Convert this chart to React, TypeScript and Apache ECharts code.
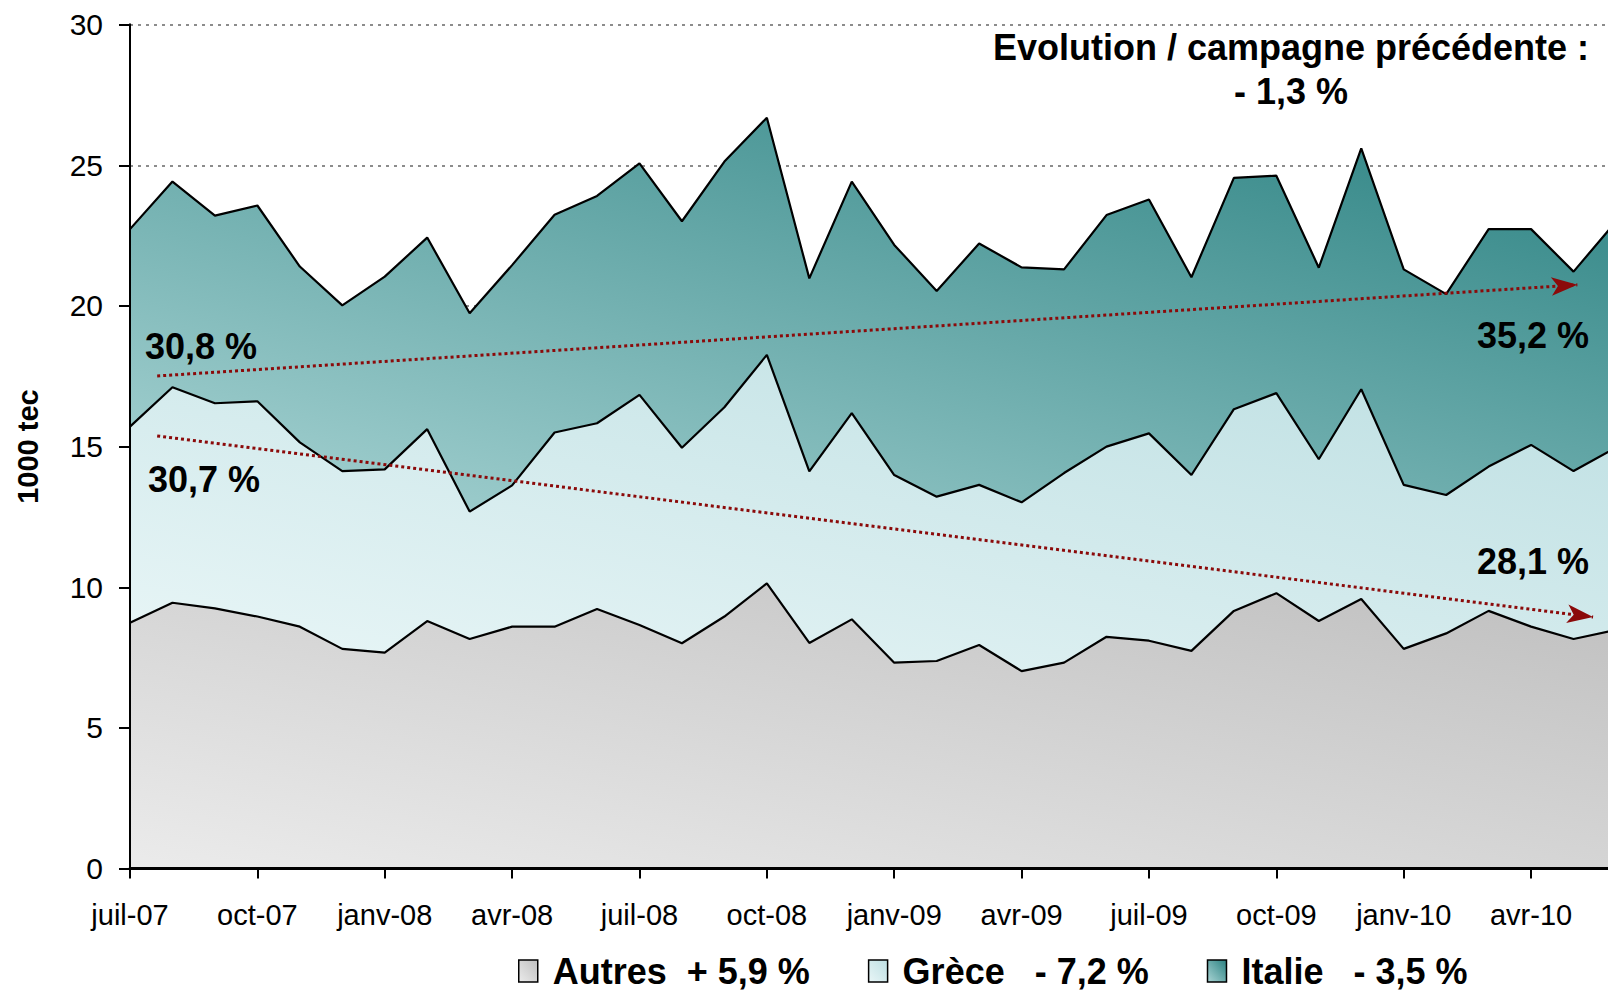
import React, { useEffect, useRef } from "react";
import * as echarts from "echarts";

const months = [
  "juil-07", "août-07", "sept-07", "oct-07", "nov-07", "déc-07",
  "janv-08", "févr-08", "mars-08", "avr-08", "mai-08", "juin-08",
  "juil-08", "août-08", "sept-08", "oct-08", "nov-08", "déc-08",
  "janv-09", "févr-09", "mars-09", "avr-09", "mai-09", "juin-09",
  "juil-09", "août-09", "sept-09", "oct-09", "nov-09", "déc-09",
  "janv-10", "févr-10", "mars-10", "avr-10", "mai-10", "juin-10",
];

const autres = [
  8.74, 9.45, 9.25, 8.96, 8.6, 7.81, 7.68, 8.8, 8.16, 8.6, 8.6, 9.23,
  8.66, 8.01, 8.96, 10.14, 8.02, 8.86, 7.32, 7.38, 7.95, 7.02, 7.32, 8.24,
  8.1, 7.74, 9.16, 9.79, 8.8, 9.58, 7.81, 8.36, 9.16, 8.6, 8.16, 8.48,
];

const grece = [
  6.97, 7.66, 7.29, 7.65, 6.55, 6.32, 6.51, 6.82, 4.53, 5.02, 6.9, 6.6,
  8.18, 6.95, 7.44, 8.12, 6.1, 7.33, 6.67, 5.84, 5.69, 6.0, 6.74, 6.76,
  7.37, 6.25, 7.17, 7.11, 5.75, 7.46, 5.83, 4.92, 5.13, 6.46, 5.97, 6.49,
];

const italie = [
  7.02, 7.31, 6.67, 6.96, 6.25, 5.89, 6.85, 6.81, 7.05, 7.83, 7.74, 8.08,
  8.23, 8.05, 8.73, 8.43, 6.86, 8.23, 8.18, 7.31, 8.58, 8.35, 7.24, 8.23,
  8.31, 7.03, 8.22, 7.73, 6.81, 8.56, 7.66, 7.14, 8.44, 7.67, 7.09, 8.03,
];

// trend arrows: [month index (fractional), value]
const italieTrend = [[0.64, 17.51], [34.09, 20.75]];
const greceTrend = [[0.64, 15.38], [34.46, 8.94]];

const seriesNames = [
  "Autres\u00a0\u00a0+ 5,9 %",
  "Grèce\u00a0\u00a0\u00a0- 7,2 %",
  "Italie\u00a0\u00a0\u00a0- 3,5 %",
];
const shareLabels = ["30,8 %", "35,2 %", "30,7 %", "28,1 %"];
const titleLines = ["Evolution / campagne précédente :", "- 1,3 %"];
const yTicks = { min: 0, max: 30, interval: 5 };

const FONT = "Liberation Sans, Arial, sans-serif";

const grad = (c0: string, c1: string) =>
  new echarts.graphic.LinearGradient(0, 1, 1, 0, [
    { offset: 0, color: c0 },
    { offset: 1, color: c1 },
  ]);

export default function App() {
  const ref = useRef<HTMLDivElement>(null);

  useEffect(() => {
    if (!ref.current) return;
    const chart = echarts.init(ref.current, undefined, { renderer: "svg" });

    const colAutres = grad("#ebebeb", "#bfbfbf");
    const colGrece = grad("#e9f6f7", "#bddfe2");
    const colItalie = grad("#a9d4d4", "#2a8181");

    const areaSeries = (name: string, data: number[], color: any) => ({
      name,
      type: "line",
      stack: "total",
      data,
      symbol: "none",
      showSymbol: false,
      smooth: false,
      xAxisIndex: 0,
      yAxisIndex: 0,
      lineStyle: { color: "#000", width: 2.2 },
      itemStyle: { color },
      areaStyle: { color, opacity: 1 },
      z: 2,
    });

    const trendSeries = (pts: number[][]) => ({
      type: "line",
      xAxisIndex: 1,
      yAxisIndex: 0,
      data: [],
      silent: true,
      z: 5,
      markLine: {
        silent: true,
        animation: false,
        symbol: ["none", "arrow"],
        symbolSize: [14, 26],
        label: { show: false },
        lineStyle: { color: "#8b0a0a", width: 3, type: [3, 3], opacity: 1 },
        data: [[{ coord: pts[0] }, { coord: pts[1] }]],
      },
    });

    const txt = (text: string, x: number, y: number) => ({
      type: "text",
      x,
      y,
      z: 100,
      style: {
        text,
        fontSize: 36,
        fontWeight: "bold",
        fill: "#000",
        align: "center",
        verticalAlign: "middle",
        fontFamily: FONT,
      },
    });

    chart.setOption({
      animation: false,
      textStyle: { fontFamily: FONT },
      grid: {
        left: 130,
        right: -8,
        top: 24.6,
        bottom: 122.4,
        containLabel: false,
        outerBoundsMode: "none",
      },
      xAxis: [
        {
          type: "category",
          data: months,
          boundaryGap: false,
          axisLine: { show: true, lineStyle: { color: "#000", width: 3 } },
          axisTick: { show: true, interval: 2, length: 10, lineStyle: { color: "#000", width: 2 } },
          axisLabel: { interval: 2, margin: 32, fontSize: 29, color: "#000", fontFamily: FONT },
          splitLine: { show: false },
          z: 10,
        },
        { type: "value", min: 0, max: 35, show: false },
      ],
      yAxis: [
        {
          type: "value",
          min: yTicks.min,
          max: yTicks.max,
          interval: yTicks.interval,
          name: "1000 tec",
          nameLocation: "middle",
          nameGap: 88,
          nameRotate: 90,
          nameTextStyle: { fontSize: 29, fontWeight: "bold", color: "#000", fontFamily: FONT },
          axisLine: { show: true, lineStyle: { color: "#000", width: 2 } },
          axisTick: { show: true, length: 11, lineStyle: { color: "#000", width: 2 } },
          axisLabel: { margin: 27, fontSize: 30, color: "#000", fontFamily: FONT },
          splitLine: { show: true, lineStyle: { color: "#8c8c8c", width: 2, type: [3, 5] } },
        },
        {
          type: "value",
          min: yTicks.min,
          max: yTicks.max,
          interval: yTicks.interval,
          position: "left",
          axisLine: { show: true, lineStyle: { color: "#000", width: 2 } },
          axisTick: { show: false },
          axisLabel: { show: false },
          splitLine: { show: false },
          z: 10,
        },
      ],
      legend: {
        left: 518,
        top: 953,
        padding: 0,
        itemWidth: 19,
        itemHeight: 22,
        itemGap: 58,
        icon: "rect",
        selectedMode: false,
        textStyle: {
          fontSize: 36,
          lineHeight: 36,
          fontWeight: "bold",
          color: "#000",
          fontFamily: FONT,
          padding: [0, 0, 0, 10],
        },
        data: [
          { name: seriesNames[0], icon: "rect", itemStyle: { color: colAutres, borderColor: "#000", borderWidth: 1.5 } },
          { name: seriesNames[1], icon: "rect", itemStyle: { color: colGrece, borderColor: "#000", borderWidth: 1.5 } },
          { name: seriesNames[2], icon: "rect", itemStyle: { color: colItalie, borderColor: "#000", borderWidth: 1.5 } },
        ],
      },
      graphic: [
        txt(titleLines[0], 1291, 47),
        txt(titleLines[1], 1291, 91),
        txt(shareLabels[0], 201, 346),
        txt(shareLabels[1], 1533, 335),
        txt(shareLabels[2], 204, 479),
        txt(shareLabels[3], 1533, 561),
      ],
      series: [
        areaSeries(seriesNames[0], autres, colAutres),
        areaSeries(seriesNames[1], grece, colGrece),
        areaSeries(seriesNames[2], italie, colItalie),
        trendSeries(italieTrend),
        trendSeries(greceTrend),
      ],
    });

    return () => chart.dispose();
  }, []);

  return (
    <div
      ref={ref}
      style={{ position: "fixed", left: 0, top: 0, width: 1608, height: 991, background: "#fff" }}
    />
  );
}
